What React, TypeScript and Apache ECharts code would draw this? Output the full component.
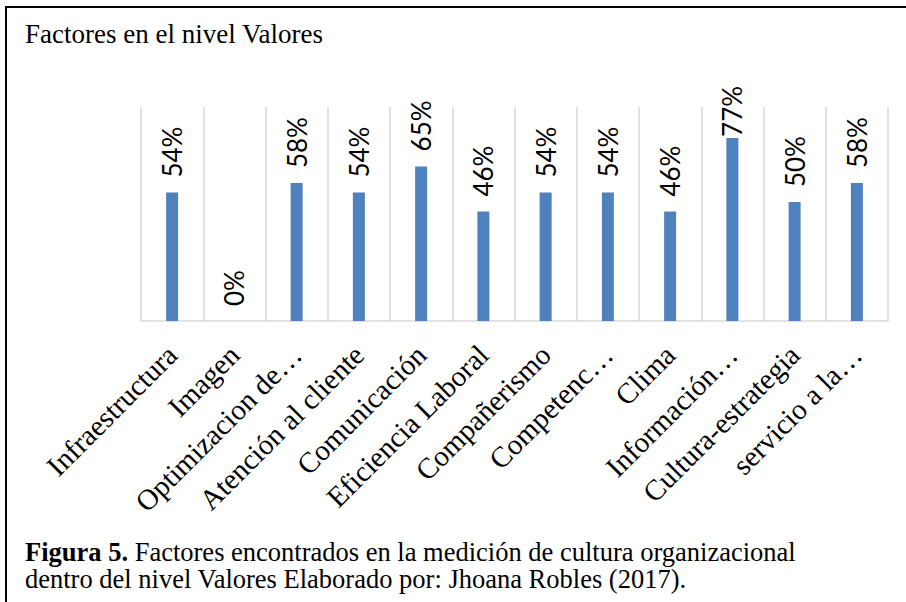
import React, { useEffect, useRef } from "react";
import * as echarts from "echarts";

const categories: string[] = [
  "Infraestructura",
  "Imagen",
  "Optimizacion de…",
  "Atención al cliente",
  "Comunicación",
  "Eficiencia Laboral",
  "Compañerismo",
  "Competenc…",
  "Clima",
  "Información…",
  "Cultura-estrategia",
  "servicio a la…",
];

const values: number[] = [0.54, 0, 0.58, 0.54, 0.65, 0.46, 0.54, 0.54, 0.46, 0.77, 0.5, 0.58];

const chartTitle = "Factores en el nivel Valores";
const captionBold = "Figura 5.";
const captionLine1 = " Factores encontrados en la medición de cultura organizacional";
const captionLine2 = "dentro del nivel Valores Elaborado por: Jhoana Robles (2017).";

export default function App() {
  const ref = useRef<HTMLDivElement>(null);

  useEffect(() => {
    if (!ref.current) return;
    const chart = echarts.init(ref.current, undefined, { renderer: "svg" });
    const serif = "'Liberation Serif', 'Times New Roman', serif";
    const sans = "Lato, 'Liberation Sans', Arial, sans-serif";

    chart.setOption({
      animation: false,
      backgroundColor: "#ffffff",
      grid: { left: 141, right: 18, top: 107, bottom: 281, containLabel: false },
      xAxis: {
        type: "category",
        data: categories,
        boundaryGap: true,
        axisLine: { show: true, lineStyle: { color: "#d9d9d9", width: 1.5 } },
        axisTick: { show: false },
        splitLine: { show: true, lineStyle: { color: "#d9d9d9", width: 1.5 } },
        axisLabel: {
          interval: 0,
          rotate: 45,
          margin: 29,
          color: "#000000",
          fontFamily: serif,
          fontSize: 29,
        },
      },
      yAxis: {
        type: "value",
        min: 0,
        max: 0.9,
        show: false,
        splitLine: { show: false },
      },
      series: [
        {
          type: "bar",
          barWidth: 12,
          itemStyle: { color: "#4f81bd" },
          data: values.map((v) => ({
            value: v,
            label: { distance: v >= 0.7 ? 1 : 15 },
          })),
          label: {
            show: true,
            position: "top",
            rotate: 90,
            align: "left",
            verticalAlign: "middle",
            distance: 15,
            color: "#000000",
            fontFamily: sans,
            fontSize: 26,
            formatter: (p: any) => `${Math.round(p.value * 100)}%`,
          },
        },
      ],
      graphic: [
        {
          type: "line",
          shape: { x1: 6, y1: 7, x2: 906, y2: 7 },
          style: { stroke: "#000000", lineWidth: 2 },
        },
        {
          type: "line",
          shape: { x1: 6, y1: 6, x2: 6, y2: 602 },
          style: { stroke: "#000000", lineWidth: 2 },
        },
        {
          type: "text",
          x: 25,
          y: 34,
          style: {
            text: chartTitle,
            fontFamily: serif,
            fontSize: 27,
            fill: "#000000",
            verticalAlign: "middle",
          },
        },
        {
          type: "text",
          x: 25,
          y: 552,
          style: {
            text: `{b|${captionBold}}{n|${captionLine1}}`,
            verticalAlign: "middle",
            rich: {
              b: { fontFamily: serif, fontSize: 26.5, fontWeight: "bold", fill: "#000000" },
              n: { fontFamily: serif, fontSize: 26.5, fill: "#000000" },
            },
          },
        },
        {
          type: "text",
          x: 25,
          y: 579,
          style: {
            text: captionLine2,
            fontFamily: serif,
            fontSize: 26.5,
            fill: "#000000",
            verticalAlign: "middle",
          },
        },
      ],
    });

    return () => chart.dispose();
  }, []);

  return (
    <div
      ref={ref}
      style={{ position: "fixed", left: 0, top: 0, width: 906, height: 602 }}
    />
  );
}
